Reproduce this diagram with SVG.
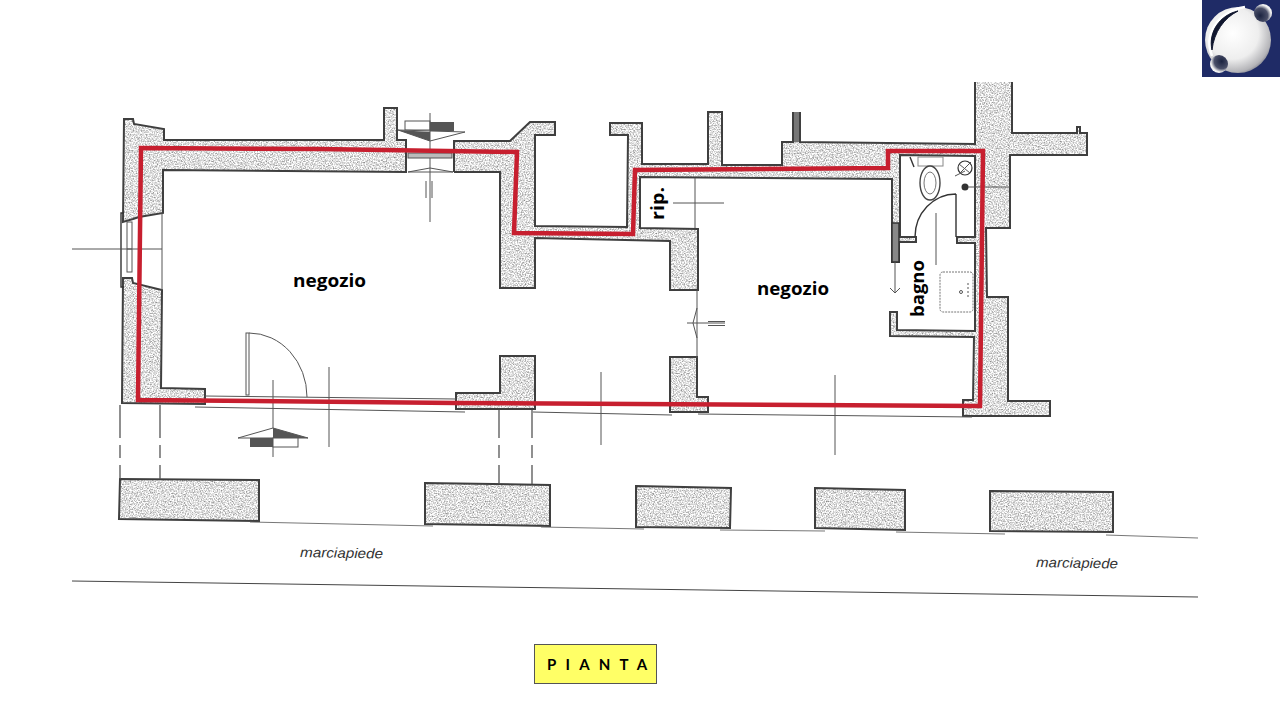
<svg xmlns="http://www.w3.org/2000/svg" width="1280" height="727" viewBox="0 0 1280 727">
<style>
.wf{fill:#d8d8d8;stroke:none;filter:url(#speck)}
.ws{fill:none;stroke:#3f3f3f;stroke-width:2;stroke-linejoin:miter}
.t{fill:none;stroke:#555;stroke-width:1}
.t2{fill:none;stroke:#333;stroke-width:1.4}
.lab{font-family:"Open Sans","DejaVu Sans",sans-serif;font-weight:700;fill:#000}
.mar{font-family:"Liberation Sans",sans-serif;font-style:italic;font-size:14px;fill:#333}
</style>
<defs>
<filter id="speck" x="0" y="0" width="100%" height="100%" color-interpolation-filters="sRGB">
<feTurbulence type="fractalNoise" baseFrequency="0.75" numOctaves="2" seed="7"/>
<feColorMatrix type="matrix" values="0.95 0 0 0 0.4  0.95 0 0 0 0.4  0.95 0 0 0 0.4  0 0 0 0 1"/>
<feComposite in2="SourceGraphic" operator="in"/>
</filter>
<radialGradient id="ball" cx="0.42" cy="0.4" r="0.65">
<stop offset="0" stop-color="#fff"/><stop offset="0.6" stop-color="#eee"/><stop offset="0.9" stop-color="#b4b4b8"/><stop offset="1" stop-color="#7a7c88"/>
</radialGradient>
<radialGradient id="sm" cx="0.35" cy="0.65" r="0.75">
<stop offset="0" stop-color="#1b2340"/><stop offset="0.55" stop-color="#4a4f68"/><stop offset="0.8" stop-color="#eee"/><stop offset="1" stop-color="#fff"/>
</radialGradient>
</defs>
<rect width="1280" height="727" fill="#fff"/>

<g id="logo">
<rect x="1202" y="0" width="78" height="77" fill="#1f2b66"/>
<circle cx="1238" cy="40" r="33" fill="url(#ball)"/>
<path d="M1212 56C1204 36 1216 12 1245 7" fill="none" stroke="#fff" stroke-width="2.500"/>
<path d="M1212 50C1208 32 1220 15 1238 11C1224 18 1214 32 1212 50Z" fill="#10162e" stroke="#10162e"/>
<circle cx="1263" cy="13" r="9" fill="url(#sm)"/>
<circle cx="1219" cy="64" r="9" fill="url(#sm)" transform="rotate(180 1219 64)"/>
</g>

<g id="walls">
<path id="wall-nw" class="wf" d="M124 119L133 119L134 124L164 129L164 140L384 140L384 108L397 108L397 140L406 140L406 172L163 170L163 213L139 217L133 219L123 222Z"/>
<path id="wall-sw" class="wf" d="M123 278L132 278L133 283L162 290L161 388L205 389L205 404L122 403Z"/>
<path id="wall-main" class="wf" d="M454 141L510 141L530 122L555 122L555 135L535 135L535 226L627 227L628 135L610 135L610 123L642 123L642 164L708 164L708 112L722 112L722 165L782 165L782 142L793 142L793 112L800 112L800 142L975 144L975 82L1012 82L1012 133L1077 133L1077 127L1080 127L1080 133L1087 133L1087 155L1010 155L1010 228L986 228L987 297L1008 297L1008 401L1050 401L1050 416L963 416L963 400L973 400L974 337L890 336L890 312L897 312L897 330L975 331L975 243L957 243L957 237L975 237L975 156L900 155L900 237L916 237L916 242L899 242L899 262L892 262L892 179L640 177L640 228L698 229L698 290L670 290L670 241L535 238L535 288L500 288L500 172L454 172Z"/>
<path id="pier-a" class="wf" d="M500 356L535 356L535 409L456 409L456 393L500 393Z"/>
<path id="pier-b" class="wf" d="M670 357L697 357L697 397L708 397L708 412L670 412Z"/>
<path class="ws" d="M124 119L133 119L134 124L164 129L164 140L384 140L384 108L397 108L397 140L406 140L406 172L163 170L163 213L139 217L133 219L123 222Z"/>
<path class="ws" d="M123 278L132 278L133 283L162 290L161 388L205 389L205 404L122 403Z"/>
<path class="ws" d="M454 172L454 141L510 141L530 122L555 122L555 135L535 135L535 226L627 227L628 135L610 135L610 123L642 123L642 164L708 164L708 112L722 112L722 165L782 165L782 142L793 142L793 112M800 112L800 142L975 144L975 82M1012 82L1012 133L1077 133L1077 127L1080 127L1080 133L1087 133L1087 155L1010 155L1010 228L986 228L987 297L1008 297L1008 401L1050 401L1050 416L963 416L963 400L973 400L974 337L890 336L890 312L897 312L897 330L975 331L975 243L957 243L957 237L975 237L975 156L900 155L900 237L916 237L916 242L899 242L899 262L892 262L892 179L640 177L640 228L698 229L698 290L670 290L670 241L535 238L535 288L500 288L500 172L454 172"/>
<path class="ws" d="M500 356L535 356L535 409L456 409L456 393L500 393Z"/>
<path class="ws" d="M670 357L697 357L697 397L708 397L708 412L670 412Z"/>
<rect x="794" y="112" width="5" height="30" fill="#777"/>
</g>

<g id="pillars">
<path class="wf" d="M120 479L259 480L259 521L119 519Z"/>
<path class="wf" d="M425 483L550 485L550 526L425 524Z"/>
<path class="wf" d="M636 486L731 488L730 528L636 527Z"/>
<path class="wf" d="M815 488L905 490L905 530L815 528Z"/>
<path class="wf" d="M990 491L1113 492L1113 532L990 531Z"/>
<path class="ws" d="M120 479L259 480L259 521L119 519Z"/>
<path class="ws" d="M425 483L550 485L550 526L425 524Z"/>
<path class="ws" d="M636 486L731 488L730 528L636 527Z"/>
<path class="ws" d="M815 488L905 490L905 530L815 528Z"/>
<path class="ws" d="M990 491L1113 492L1113 532L990 531Z"/>
</g>

<g id="details">
<!-- street lines -->
<path class="t" stroke-opacity="0.8" d="M250 522L433 526M541 527L644 529M720 530L825 531M896 532L1005 534M1106 535L1198 538"/>
<path class="t" d="M72 581L1198 597" style="stroke:#444"/>
<!-- facade -->
<path class="t" d="M195 407L465 412M533 412L672 415M698 414L972 417"/>
<path class="t" d="M205 396L456 399M205 401L456 403"/>
<path class="t" style="stroke-width:1.3" d="M120 405V438M120 445V458M120 465V479M160 405V438M160 445V458M160 465V479M499 410V438M499 445V458M499 465V483M532 410V438M532 445V458M532 465V484"/>
<path class="t" d="M329 367V447M273 380V457M601 372V445M835 375V455"/>
<!-- entrance door -->
<rect x="246" y="333" width="3" height="62" class="t"/>
<path class="t" d="M249 333A58 64 0 0 1 307 397"/>
<!-- entrance section mark -->
<path d="M238 438L273 428L308 438Z" fill="#fff" stroke="#555" stroke-width="1"/>
<path d="M273 428L308 438H273Z" fill="#555"/>
<rect x="250" y="438" width="23" height="9" fill="#555"/>
<rect x="273" y="438" width="25" height="9" fill="#fff" stroke="#555"/>
<!-- window -->
<path class="t2" d="M124 213L121 213L121 287L124 287"/>
<rect x="127" y="222" width="5" height="50" fill="#fff" stroke="#555"/>
<path class="t" d="M127 249H132M72 249H162M162 213V290"/>
<!-- north door -->
<rect x="405" y="121" width="25" height="9" fill="#fff" stroke="#555"/>
<rect x="430" y="122" width="24" height="9" fill="#555"/>
<path d="M398 130L465 132L430 141Z" fill="#fff" stroke="#555"/>
<path d="M398 130L430 132V141Z" fill="#555"/>
<path class="t" d="M430 113V222"/>
<rect x="408" y="153" width="44" height="5" fill="#bbb" stroke="#555"/>
<path class="t" d="M408 172L430 168L453 172ZM426 181V198M432 181V198"/>
<!-- rip door and mid door -->
<path class="t" d="M673 203H724M695 178V228M697 290V358"/>
<path class="t" d="M687 323H725M708 321.500H725M708 325.500H725M697 308L693 323L697 338"/>
<!-- bathroom -->
<g id="bath-fixtures">
<rect x="918" y="157" width="25" height="9" fill="#fff" stroke="#888"/>
<path class="t2" d="M910 157L914 167"/>
<ellipse cx="930" cy="183" rx="10" ry="17" fill="#fff" stroke="#444" stroke-width="1.4"/>
<ellipse cx="930" cy="183" rx="6" ry="11" fill="none" stroke="#777"/>
<circle cx="965" cy="168" r="7" fill="#fff" stroke="#333" stroke-width="1.2"/>
<path class="t" d="M960 173L971 162M959 164L970 173M955 176L965 171"/>
<circle cx="965" cy="187" r="3.500" fill="#333"/>
<path class="t" d="M968 187H1010"/>
<path class="t2" d="M956 194V237M956 194A41 43 0 0 0 915 237"/>
<path class="t" d="M936 213V265"/>
<rect x="940" y="272" width="33" height="40" rx="3" fill="none" stroke="#777" stroke-dasharray="2 1"/>
<circle cx="961" cy="292" r="1.500" fill="none" stroke="#555"/>
<path class="t" d="M968 283V298" stroke-dasharray="2 2"/>
<rect x="892" y="223" width="7" height="39" fill="#888" stroke="#333" stroke-width="1.500"/>
<path class="t" d="M895 262V292M890 288L895 293L900 288"/>
</g>
</g>

<path id="red-outline" d="M141 148L320 149L517 152L514 233L633 234L635 170L888 168L888 151L983 151L980 406L456 403L138 400Z" fill="none" stroke="#c71f2f" stroke-width="4.500" stroke-linejoin="miter"/>

<g id="labels">
<text class="lab" x="293" y="287" font-size="18" textLength="73" lengthAdjust="spacingAndGlyphs">negozio</text>
<text class="lab" x="757" y="295" font-size="18" textLength="72" lengthAdjust="spacingAndGlyphs">negozio</text>
<text class="lab" transform="translate(664 220) rotate(-90)" font-size="18" textLength="33" lengthAdjust="spacingAndGlyphs">rip.</text>
<text class="lab" transform="translate(924 317) rotate(-90)" font-size="18" textLength="57" lengthAdjust="spacingAndGlyphs">bagno</text>
<text class="mar" x="300" y="557" textLength="83" lengthAdjust="spacingAndGlyphs" transform="rotate(1 300 557)">marciapiede</text>
<text class="mar" x="1036" y="567" textLength="82" lengthAdjust="spacingAndGlyphs" transform="rotate(1 1036 567)">marciapiede</text>
</g>

<g id="title">
<rect x="534.500" y="644.500" width="122" height="39" fill="#ffff66" stroke="#555" stroke-width="1"/>
<text x="547" y="670" font-family="Lato,'Open Sans',sans-serif" font-size="15" font-weight="700" letter-spacing="9.200">PIANTA</text>
</g>
</svg>
